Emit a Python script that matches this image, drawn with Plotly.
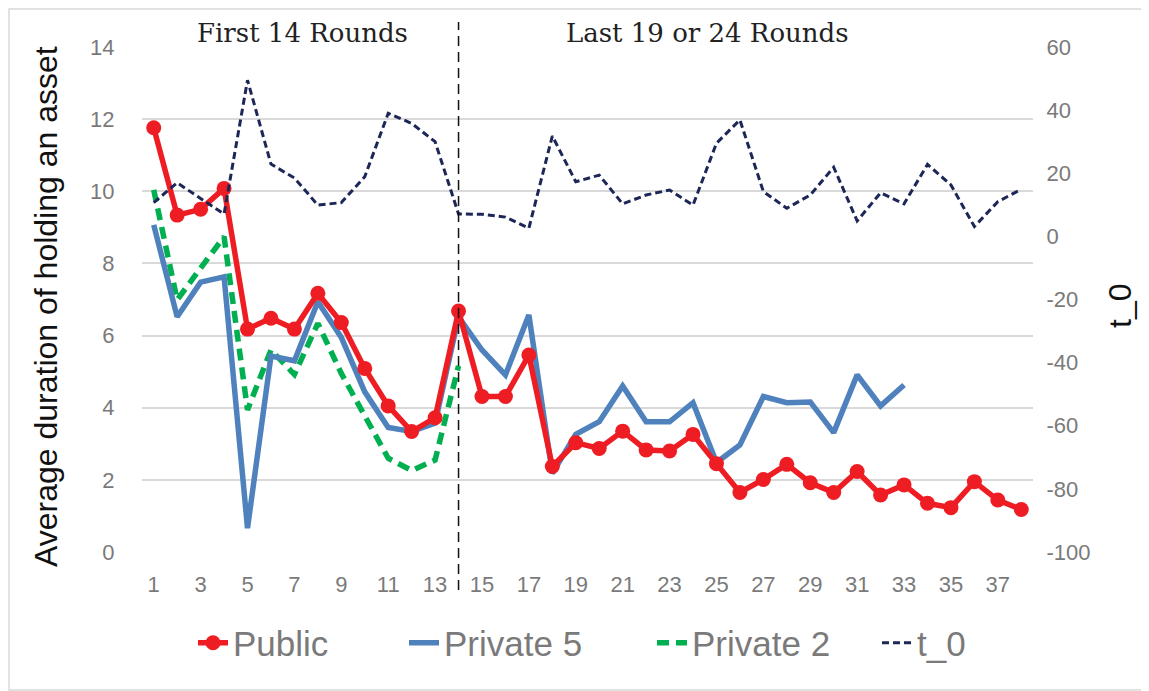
import plotly.graph_objects as go

rounds = list(range(1, 39))

public = [11.76, 9.34, 9.50, 10.08, 6.18, 6.48, 6.18, 7.17, 6.36, 5.09,
          4.05, 3.34, 3.72, 6.68, 4.31, 4.31, 5.46, 2.37, 3.03, 2.87,
          3.35, 2.83, 2.80, 3.26, 2.45, 1.65, 2.01, 2.43, 1.92, 1.65,
          2.23, 1.58, 1.86, 1.35, 1.23, 1.95, 1.44, 1.18]

private5 = [9.07, 6.52, 7.48, 7.63, 0.66, 5.43, 5.30, 6.94, 5.95, 4.44,
            3.45, 3.34, 3.57, 6.52, 5.60, 4.91, 6.57, 2.18, 3.26, 3.61,
            4.60, 3.61, 3.61, 4.14, 2.48, 2.97, 4.31, 4.14, 4.16, 3.31,
            4.91, 4.05, 4.63]

private2 = [10.04, 6.99, 7.87, 8.74, 3.94, 5.60, 4.92, 6.34, 4.95, 3.75,
            2.60, 2.26, 2.55, 5.16]

t0 = [10.7, 17.0, 12.0, 7.1, 49.5, 22.9, 18.5, 9.9, 10.7, 18.9,
      39.0, 35.8, 30.0, 7.1, 7.0, 6.1, 2.6, 31.8, 17.3, 19.4,
      10.3, 13.1, 14.7, 9.9, 29.5, 36.9, 14.2, 8.9, 13.1, 21.9,
      4.9, 13.8, 10.3, 22.8, 16.3, 3.1, 11.0, 14.9]

x_ticks = list(range(1, 38, 2))
left_ticks = [0, 2, 4, 6, 8, 10, 12, 14]
right_ticks = [-100, -80, -60, -40, -20, 0, 20, 40, 60]
right_labels = ["-100", "-80", "-60", "-40", "-20", "0", "20", "40", "60"]
split_round = 14

RED = "#EE1D23"
BLUE = "#4F81BD"
GREEN = "#00B050"
NAVY = "#1C2657"
GRAY = "#7A7A7A"

# page body has an 8px default margin, so figure coordinates = page - 8
W, H = 1141, 683
L, T = 134, 39
PW, PH = 891, 505
R = W - L - PW
B = H - T - PH


def px(xp):
    return (xp - 8 - L) / PW


def py(yp):
    return (T + PH - (yp - 8)) / PH


fig = go.Figure()

fig.add_trace(go.Scatter(
    x=rounds[:len(t0)], y=t0, name="t_0", yaxis="y2", mode="lines",
    legend="legend4",
    line=dict(color=NAVY, width=3, dash="7px,4px")))

fig.add_trace(go.Scatter(
    x=rounds[:len(private2)], y=private2, name="Private 2", mode="lines",
    legend="legend3",
    line=dict(color=GREEN, width=5.5, dash="12px,7px")))

fig.add_trace(go.Scatter(
    x=rounds[:len(private5)], y=private5, name="Private 5", mode="lines",
    legend="legend2",
    line=dict(color=BLUE, width=5.5)))

fig.add_trace(go.Scatter(
    x=rounds[:len(public)], y=public, name="Public", mode="lines+markers",
    legend="legend",
    line=dict(color=RED, width=5.5),
    marker=dict(color=RED, size=15)))


def legend_at(xpage):
    return dict(orientation="h", x=px(xpage), xanchor="left", y=py(643),
                yanchor="middle", font=dict(size=35, color=GRAY),
                bgcolor="rgba(0,0,0,0)")


fig.update_layout(
    width=W, height=H,
    margin=dict(l=L, r=R, t=T, b=B, autoexpand=False),
    paper_bgcolor="white", plot_bgcolor="white",
    font=dict(family="Liberation Sans, Arial, sans-serif", color=GRAY),
    showlegend=True,
    legend=legend_at(193),
    legend2=legend_at(404),
    legend3=legend_at(652),
    legend4=legend_at(877),
    xaxis=dict(range=[0.5, 38.5], tickmode="array", tickvals=x_ticks,
               ticktext=[str(v) for v in x_ticks],
               showgrid=False, zeroline=False, showline=False,
               ticks="outside", ticklen=13, tickcolor="rgba(0,0,0,0)",
               tickfont=dict(size=22, color=GRAY)),
    yaxis=dict(range=[0, 14], tickmode="array", tickvals=left_ticks,
               showgrid=True, gridcolor="#D9D9D9", gridwidth=1.5,
               zeroline=False, showline=False,
               ticks="outside", ticklen=22, tickcolor="rgba(0,0,0,0)",
               tickfont=dict(size=22, color=GRAY)),
    yaxis2=dict(range=[-100, 60], tickmode="array", tickvals=right_ticks,
                ticktext=right_labels,
                overlaying="y", side="right", showgrid=False, zeroline=False,
                showline=False, ticks="outside", ticklen=8,
                tickcolor="rgba(0,0,0,0)",
                tickfont=dict(size=22, color=GRAY)),
)

# divider between the two phases
fig.add_shape(type="line", xref="x", yref="paper",
              x0=split_round, x1=split_round, y0=py(590), y1=py(22),
              line=dict(color="#111111", width=1.5, dash="10px,6px"))

# outer border
fig.add_shape(type="rect", xref="paper", yref="paper",
              x0=(1 - L) / PW, x1=(W - 1 - L) / PW,
              y0=(T + PH - (H - 1)) / PH, y1=(T + PH - 1) / PH,
              line=dict(color="#D9D9D9", width=1.5), layer="below")

fig.add_annotation(text="First 14 Rounds", xref="paper", yref="paper",
                   x=px(302), y=py(33), showarrow=False,
                   font=dict(family="DejaVu Serif, serif", size=26, color="#222222"),
                   xanchor="center", yanchor="middle")
fig.add_annotation(text="Last 19 or 24 Rounds", xref="paper", yref="paper",
                   x=px(707), y=py(33), showarrow=False,
                   font=dict(family="DejaVu Serif, serif", size=26, color="#222222"),
                   xanchor="center", yanchor="middle")

fig.add_annotation(text="Average duration of holding an asset", xref="paper", yref="paper",
                   x=px(46), y=py(307), showarrow=False,
                   textangle=-90, xanchor="center", yanchor="middle",
                   font=dict(size=32, color="#111111"))
fig.add_annotation(text="t_0", xref="paper", yref="paper",
                   x=px(1120), y=py(306), showarrow=False,
                   textangle=-90, xanchor="center", yanchor="middle",
                   font=dict(size=32, color="#111111"))

fig.write_html("out.html")
